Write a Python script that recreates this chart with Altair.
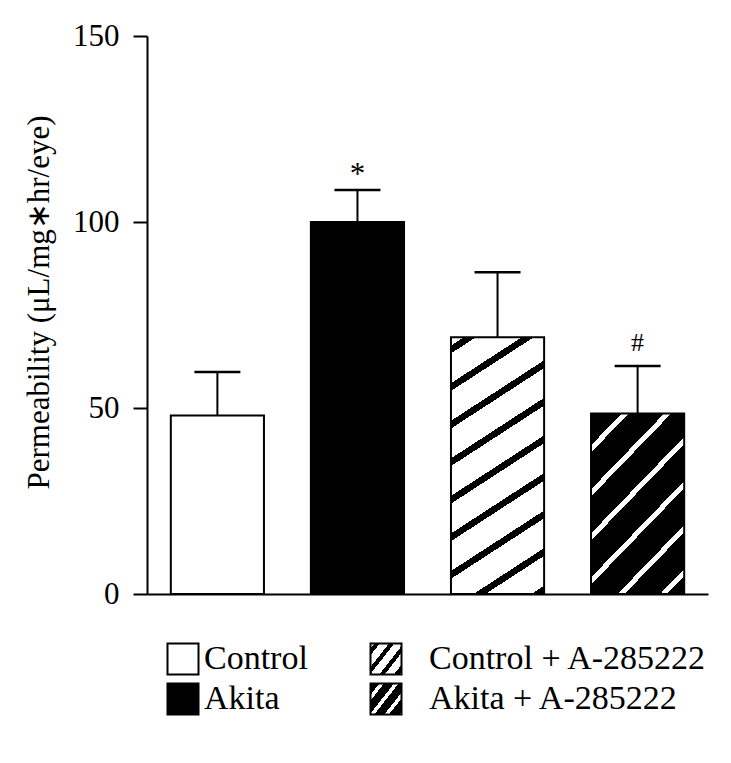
import math
import altair as alt
import pandas as pd

# ---------------- data ----------------
categories = ["Control", "Akita", "Control + A-285222", "Akita + A-285222"]
means = [48.0, 100.0, 69.0, 48.5]
err_top = [59.7, 108.6, 86.5, 61.3]
sig_marks = ["", "*", "", "#"]
y_ticks = [0, 50, 100, 150]
legend_cols = [0, 0, 1, 1]
legend_rows = [0, 1, 0, 1]

FONT = "Liberation Serif"
PLOT_W, PLOT_H = 561, 558
Y_MAX = 150
PAD_INNER, PAD_OUTER = 0.335, 0.17
STEP = PLOT_W / (len(categories) - PAD_INNER + 2 * PAD_OUTER)
BAND = STEP * (1 - PAD_INNER)


def stripe_gradient(w, h, angle_deg, period, thick, phase, bg, fg):
    """Diagonal stripes as a linear gradient in the mark's bounding box."""
    th = math.radians(angle_deg)
    P = w * math.sin(th) + h * math.cos(th)
    al = w * math.sin(th) / P
    be = h * math.cos(th) / P
    n2 = al * al + be * be
    a, b = al / n2, be / n2
    stops = []
    p0 = (phase % period) - period
    while p0 < P:
        s0 = max(p0, 0.0) / P
        s1 = min(p0 + thick, P) / P
        if s1 > s0:
            s0, s1 = round(s0, 5), round(s1, 5)
            stops += [
                alt.GradientStop(color=bg, offset=s0),
                alt.GradientStop(color=fg, offset=s0),
                alt.GradientStop(color=fg, offset=s1),
                alt.GradientStop(color=bg, offset=s1),
            ]
        p0 += period
    return alt.LinearGradient(gradient="linear", stops=stops,
                              x1=0, y1=0, x2=round(a, 5), y2=round(b, 5))


h_ca = means[2] / Y_MAX * PLOT_H
h_aa = means[3] / Y_MAX * PLOT_H
fills = [
    "white",
    "black",
    stripe_gradient(BAND, h_ca, 33, 31.5, 6.5, 7, "white", "black"),
    stripe_gradient(BAND, h_aa, 46, 30.6, 5.0, 22, "black", "white"),
]
SW = 31
legend_fills = [
    "white",
    "black",
    stripe_gradient(SW, SW, 52, 11.5, 4.2, 3, "white", "black"),
    stripe_gradient(SW, SW, 52, 11.5, 3.6, 7, "black", "white"),
]

df = pd.DataFrame({"category": categories, "mean": means, "err": err_top, "mark": sig_marks})
YTITLE = "Permeability (μL/mg∗hr/eye)"

x_enc = alt.X("category:N", sort=categories,
              scale=alt.Scale(paddingInner=PAD_INNER, paddingOuter=PAD_OUTER),
              axis=alt.Axis(title=None, labels=False, ticks=False))
y_scale = alt.Scale(domain=[0, Y_MAX], nice=False)
y_axis = alt.Axis(values=y_ticks, title=YTITLE, titleY=266)

base = alt.Chart(df)
layers = []
for cat, fill in zip(categories, fills):
    layers.append(
        base.transform_filter(alt.datum.category == cat)
        .mark_bar(fill=fill, stroke="black", strokeWidth=2, opacity=1)
        .encode(x=x_enc, y=alt.Y("mean:Q", scale=y_scale, axis=y_axis))
    )
whisker = base.mark_rule(color="black", strokeWidth=2).encode(
    x=x_enc, y=alt.Y("mean:Q", scale=y_scale, axis=y_axis), y2="err:Q")
cap = base.mark_tick(color="black", thickness=2.5, size=46, opacity=1).encode(
    x=x_enc, y=alt.Y("err:Q", scale=y_scale, axis=y_axis))
star = base.transform_filter(alt.datum.mark == "*").mark_text(
    font=FONT, fontSize=31, baseline="alphabetic", dy=-6, color="black").encode(
    x=x_enc, y=alt.Y("err:Q", scale=y_scale, axis=y_axis), text="mark:N")
hash_ = base.transform_filter(alt.datum.mark == "#").mark_text(
    font=FONT, fontSize=26, baseline="alphabetic", dy=-15, color="black").encode(
    x=x_enc, y=alt.Y("err:Q", scale=y_scale, axis=y_axis), text="mark:N")

main = alt.layer(*layers, whisker, cap, star, hash_).properties(width=PLOT_W, height=PLOT_H)

# ---------------- legend ----------------
ldf = pd.DataFrame({"label": categories, "col": legend_cols, "row": legend_rows})
lx = alt.X("col:Q", scale=alt.Scale(domain=[0, 1], range=[36, 239]), axis=None)
ly = alt.Y("row:Q", scale=alt.Scale(domain=[0, 1], range=[16, 56]), axis=None)
lbase = alt.Chart(ldf)
leg_layers = []
for cat, fill in zip(categories, legend_fills):
    leg_layers.append(
        lbase.transform_filter(alt.datum.label == cat)
        .mark_square(size=SW * SW, fill=fill, stroke="black", strokeWidth=2, opacity=1, fillOpacity=1)
        .encode(x=lx, y=ly)
    )
for c, dx in [(0, 21), (1, 43)]:
    leg_layers.append(
        lbase.transform_filter(alt.datum.col == c)
        .mark_text(font=FONT, fontSize=34, align="left", baseline="middle", dx=dx, color="black")
        .encode(x=lx, y=ly, text="label:N")
    )
legend = alt.layer(*leg_layers).properties(width=PLOT_W, height=80)

chart = (
    alt.vconcat(main, legend, spacing=30)
    .properties(padding={"left": 15, "top": 12, "right": 5, "bottom": 5})
    .configure_view(strokeWidth=0)
    .configure_axis(grid=False, domainColor="black", domainWidth=2, tickColor="black",
                    tickWidth=2, labelColor="black", titleColor="black",
                    labelFont=FONT, titleFont=FONT)
    .configure_axisY(tickSize=14, labelFontSize=31, labelPadding=14,
                     titleFontSize=31, titleFontWeight="normal", titlePadding=17)
)
chart.save("out.html", embed_options={"renderer": "svg", "actions": False})
